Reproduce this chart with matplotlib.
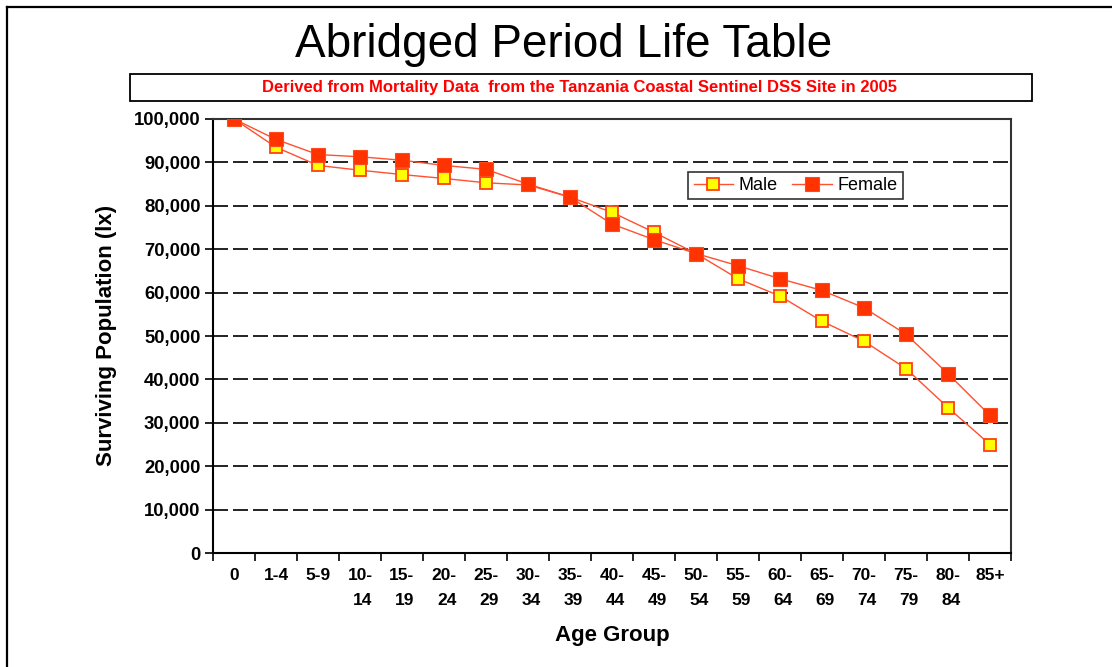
import matplotlib
matplotlib.use("Agg")
import matplotlib.pyplot as plt
from matplotlib.patches import Rectangle
from matplotlib.lines import Line2D
from matplotlib.ticker import FuncFormatter, MultipleLocator

age_groups = ["0", "1-4", "5-9", "10-\n14", "15-\n19", "20-\n24", "25-\n29", "30-\n34",
              "35-\n39", "40-\n44", "45-\n49", "50-\n54", "55-\n59", "60-\n64", "65-\n69",
              "70-\n74", "75-\n79", "80-\n84", "85+"]
male = [100000, 93500, 89300, 88200, 87200, 86300, 85300, 84800, 82000, 78500,
        73900, 69000, 63200, 59200, 53400, 48800, 42500, 33500, 25000]
female = [100000, 95300, 91800, 91300, 90500, 89300, 88400, 85000, 82000, 75800,
          72200, 69000, 66200, 63200, 60500, 56500, 50400, 41300, 31700]

title = "Abridged Period Life Table"
subtitle = "Derived from Mortality Data  from the Tanzania Coastal Sentinel DSS Site in 2005"

plt.rcParams['font.family'] = ['Liberation Sans', 'DejaVu Sans']
plt.rcParams['lines.scale_dashes'] = False

fig = plt.figure(figsize=(11.12, 6.67), dpi=100, facecolor='white')
W, H = 1112, 667

def fx(px):
    return px / W

def fy(py):
    return 1 - py / H

# outer frame: top and left edges
fig.lines.append(Line2D([fx(6.5), fx(1112)], [fy(7), fy(7)], transform=fig.transFigure,
                        color='black', linewidth=1.6))
fig.lines.append(Line2D([fx(6.5), fx(6.5)], [fy(7), fy(667)], transform=fig.transFigure,
                        color='black', linewidth=1.6))

ax = fig.add_axes([fx(213), fy(553), (1011 - 213) / W, (553 - 119) / H])

x = [i + 0.5 for i in range(len(age_groups))]
line_color = '#FF5030'
ax.plot(x, male, color=line_color, linewidth=1.0, marker='s', markersize=8.6,
        markerfacecolor='#FFFF00', markeredgecolor='#FF4010', markeredgewidth=1.3,
        label='Male', zorder=3)
ax.plot(x, female, color=line_color, linewidth=1.0, marker='s', markersize=10,
        markerfacecolor='#FF3300', markeredgecolor='#FF4A20', markeredgewidth=0.8,
        label='Female', zorder=4)

ax.set_xlim(0, len(age_groups))
ax.set_ylim(0, 100000)
ax.yaxis.set_major_locator(MultipleLocator(10000))
ax.yaxis.set_major_formatter(FuncFormatter(lambda v, p: f"{int(v):,}"))
ax.set_xticks(range(len(age_groups) + 1))
ax.set_xticklabels([])
ax.set_xticks(x, minor=True)
ax.set_xticklabels(age_groups, minor=True, fontsize=12.5, fontweight='bold', ma='right',
                   linespacing=1.9, va='top')
ax.tick_params(axis='x', which='minor', length=0, pad=10.5)
ax.tick_params(axis='x', which='major', direction='out', length=6, width=1.2, color='black')
ax.tick_params(axis='y', direction='out', length=6, width=1.2, color='black',
               labelsize=13.3, pad=3)
for lab in ax.get_yticklabels():
    lab.set_fontweight('bold')

ax.yaxis.grid(True, color='#222222', linewidth=1.4, linestyle=(0, (15 * 0.72, 5 * 0.72)))
ax.set_axisbelow(True)
for side in ['left', 'bottom']:
    ax.spines[side].set_linewidth(1.5)
    ax.spines[side].set_color('black')
for side in ['top', 'right']:
    ax.spines[side].set_linewidth(1.5)
    ax.spines[side].set_color('#333333')

fig.text(fx(107), fy(335), "Surviving Population (lx)", fontsize=16, fontweight='bold',
         rotation=90, ha='center', va='center')
fig.text(fx(612), fy(636), "Age Group", fontsize=16, fontweight='bold',
         ha='center', va='center')

leg = ax.legend(loc='center', bbox_to_anchor=((795.5 - 213) / 798, (553 - 185.5) / 434),
                ncol=2, fontsize=13, frameon=True, fancybox=False, edgecolor='black',
                handlelength=2.2, handletextpad=0.3, columnspacing=0.8, borderpad=0.3)
leg.get_frame().set_linewidth(1.2)

fig.text(fx(563.5), fy(57), title, fontsize=33, ha='center', va='baseline')

# subtitle box
fig.patches.append(Rectangle((fx(130), fy(101)), (1032 - 130) / W, 27 / H,
                             transform=fig.transFigure, fill=False, edgecolor='black', linewidth=1.3))
fig.text(fx(580), fy(87.5), subtitle, fontsize=12, fontweight='bold', color='#FF0000',
         ha='center', va='center')

fig.savefig("out.png", dpi=100, facecolor='white')
